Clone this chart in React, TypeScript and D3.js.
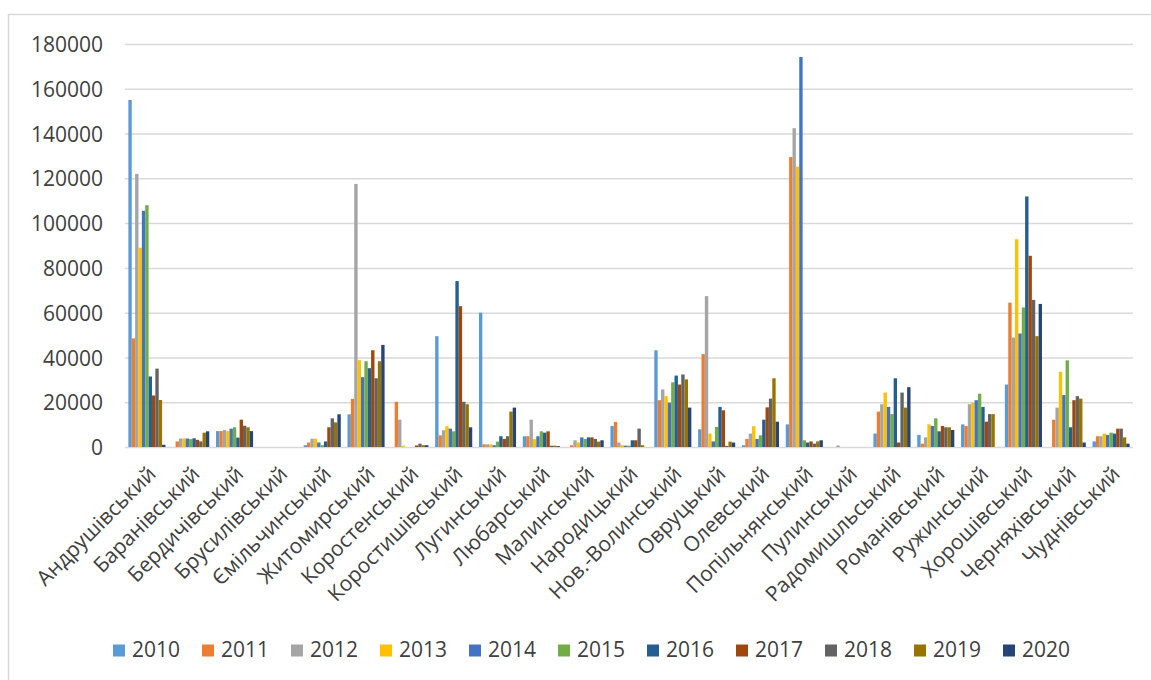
import React, { useRef, useEffect } from 'react';
import * as d3 from 'd3';

const categories = [
  'Андрушівський', 'Баранівський', 'Бердичівський', 'Брусилівський', 'Ємільчинський',
  'Житомирський', 'Коростенський', 'Коростишівський', 'Лугинський', 'Любарський',
  'Малинський', 'Народицький', 'Нов.-Волинський', 'Овруцький', 'Олевський',
  'Попільнянський', 'Пулинський', 'Радомишльський', 'Романівський', 'Ружинський',
  'Хорошівський', 'Черняхівський', 'Чуднівський'
];

const years = ['2010', '2011', '2012', '2013', '2014', '2015', '2016', '2017', '2018', '2019', '2020'];

const colors = [
  '#5B9BD5', '#ED7D31', '#A5A5A5', '#FFC000', '#4472C4', '#70AD47',
  '#255E91', '#9E480E', '#636363', '#997300', '#264478'
];

// one array per year, values in category order
const v2010 = [155000, 0, 7100, 0, 800, 14600, 0, 49500, 60000, 4800, 0, 9400, 43200, 7900, 800, 10100, 0, 6000, 5400, 10100, 27900, 0, 2500];
const v2011 = [48500, 2500, 7100, 0, 2000, 21500, 20200, 5200, 1200, 4800, 800, 11200, 20900, 41500, 3600, 129500, 0, 15800, 1500, 9400, 64500, 12200, 4800];
const v2012 = [122000, 3800, 7600, 0, 3700, 117500, 12200, 7500, 1200, 12200, 3000, 2000, 25700, 67400, 6000, 142400, 700, 19100, 4300, 19100, 48900, 17600, 4800];
const v2013 = [89000, 3800, 7100, 0, 3700, 38800, 600, 9300, 1200, 3500, 2000, 800, 22700, 6000, 9300, 125200, 0, 24300, 10100, 19800, 92800, 33600, 6000];
const v2014 = [105500, 3800, 8200, 0, 2000, 31200, 0, 8200, 800, 4800, 4300, 600, 19800, 2500, 3600, 174200, 0, 17900, 9400, 20900, 50700, 23200, 5400];
const v2015 = [108000, 3500, 8800, 0, 800, 38300, 0, 7000, 2400, 7000, 3600, 600, 28900, 9000, 5200, 3000, 0, 14700, 12800, 23800, 62300, 38700, 6400];
const v2016 = [31500, 3900, 4200, 0, 2500, 35200, 0, 74100, 4800, 6400, 4300, 3000, 31900, 17900, 12200, 2000, 0, 30700, 7000, 17900, 111900, 8800, 6000];
const v2017 = [23000, 3200, 12200, 0, 8800, 43200, 700, 62900, 3600, 7000, 4300, 3000, 27900, 16400, 17700, 2500, 0, 2000, 9400, 11300, 85400, 20900, 8200];
const v2018 = [35000, 2500, 9500, 0, 12800, 30700, 1500, 20200, 4800, 600, 3600, 8200, 32400, 500, 21600, 1500, 0, 24300, 8800, 14700, 65700, 22700, 8200];
const v2019 = [21000, 6400, 8800, 0, 11000, 38300, 800, 19100, 15800, 600, 2400, 800, 30200, 2400, 30700, 2500, 0, 17600, 8800, 14700, 49500, 21600, 4300];
const v2020 = [1000, 7000, 7100, 0, 14600, 45600, 800, 8800, 17600, 400, 3000, 0, 17600, 2000, 11300, 3000, 0, 26700, 7600, 0, 63900, 2000, 1500];

const seriesValues = [v2010, v2011, v2012, v2013, v2014, v2015, v2016, v2017, v2018, v2019, v2020];

const yTicks = [0, 20000, 40000, 60000, 80000, 100000, 120000, 140000, 160000, 180000];

const App: React.FC = () => {
  const ref = useRef<SVGSVGElement | null>(null);
  const width = 1151;
  const height = 680;

  useEffect(() => {
    if (!ref.current) return;
    const svg = d3.select(ref.current);
    svg.selectAll('*').remove();

    const font = '"Open Sans", sans-serif';
    const textColor = '#404040';
    const left = 125;
    const right = 1133;
    const top = 44;
    const bottom = 447;

    svg.append('rect')
      .attr('x', 8.5).attr('y', 14.5)
      .attr('width', 1200).attr('height', 800)
      .attr('fill', '#fff')
      .attr('stroke', '#d9d9d9').attr('stroke-width', 1.5);

    const x0 = d3.scaleBand<string>().domain(categories).range([left, right]).padding(0);
    const x1 = d3.scaleBand<string>().domain(years).range([0, x0.bandwidth()])
      .paddingInner(0).paddingOuter(1);
    const y = d3.scaleLinear().domain([0, 180000]).range([bottom, top]);

    // grid + y labels
    const yAxis = svg.append('g')
      .attr('transform', `translate(${left},0)`)
      .call(d3.axisLeft(y).tickValues(yTicks).tickSize(-(right - left)).tickPadding(22).tickFormat(d3.format('d')));
    yAxis.select('.domain').remove();
    yAxis.selectAll('line').attr('stroke', '#d9d9d9').attr('stroke-width', 1.5);
    yAxis.selectAll('text')
      .attr('font-family', font).attr('font-size', 21).attr('fill', textColor).attr('dy', '0.36em');

    // bars
    const groups = svg.append('g')
      .selectAll('g')
      .data(categories)
      .join('g')
      .attr('transform', d => `translate(${x0(d)},0)`);

    groups.selectAll('rect')
      .data((_, ci) => years.map((yr, si) => ({ yr, si, value: seriesValues[si][ci] })))
      .join('rect')
      .attr('x', d => x1(d.yr) as number)
      .attr('width', x1.bandwidth())
      .attr('y', d => y(d.value))
      .attr('height', d => y(0) - y(d.value))
      .attr('fill', d => colors[d.si]);

    // category labels
    svg.append('g')
      .selectAll('text')
      .data(categories)
      .join('text')
      .attr('transform', d => `translate(${(x0(d) as number) + x0.bandwidth() / 2 + 5},${bottom + 23}) rotate(-45)`)
      .attr('text-anchor', 'end')
      .attr('dy', '0.35em')
      .attr('font-family', font).attr('font-size', 21).attr('fill', textColor)
      .text(d => d);

    // legend
    const lx = d3.scaleLinear().domain([0, years.length - 1]).range([113, 1003]);
    const legend = svg.append('g')
      .selectAll('g')
      .data(years)
      .join('g')
      .attr('transform', (_, i) => `translate(${lx(i)},644.5)`);
    legend.append('rect')
      .attr('width', 12).attr('height', 12)
      .attr('fill', (_, i) => colors[i]);
    legend.append('text')
      .attr('x', 19).attr('y', 12.5)
      .attr('font-family', font).attr('font-size', 21).attr('fill', textColor)
      .text(d => d);
  }, []);

  return (
    <svg
      ref={ref}
      width={width}
      height={height}
      viewBox={`0 0 ${width} ${height}`}
      style={{ position: 'absolute', left: 0, top: 0, display: 'block' }}
    />
  );
};

export default App;
